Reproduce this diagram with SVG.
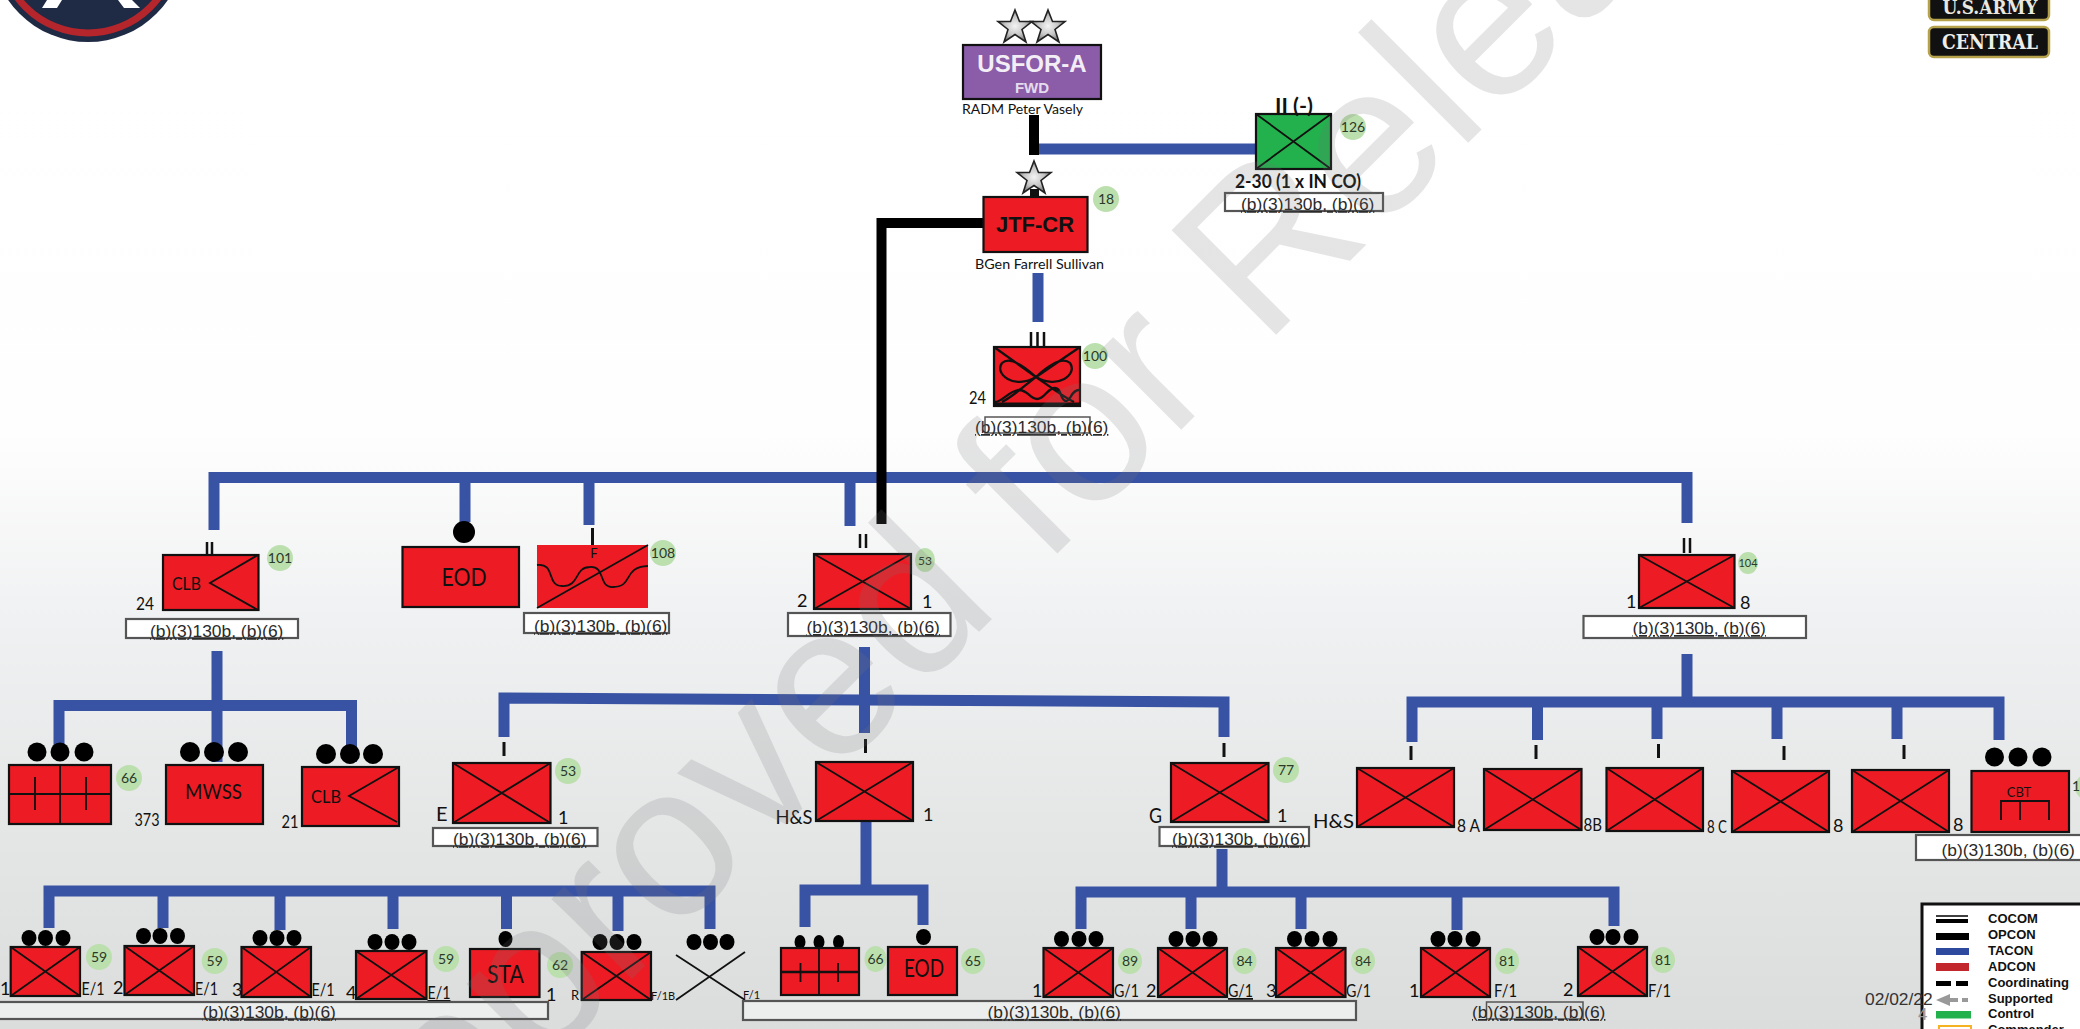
<svg xmlns="http://www.w3.org/2000/svg" width="2080" height="1029" viewBox="0 0 2080 1029">
<style>
.n{fill:#ed1c24;stroke:#111;stroke-width:2.2}
.nf{fill:#ed1c24}
.s{fill:none;stroke:#111;stroke-width:1.8}
.d{fill:#000}
.g{fill:#bcdfae}
.gt{font-family:Lato,"Liberation Sans",sans-serif;font-size:14px;fill:#2a3a2a;text-anchor:middle}
.t{font-family:Lato,"Liberation Sans",sans-serif;font-size:18px;fill:#111}
.m{text-anchor:middle}
.sm{font-size:13px}
.big{font-size:25px}
.r{fill:#fff;stroke:#555;stroke-width:2.2}
.rl{fill:#eceded;stroke:#555;stroke-width:2.2}
.rt{font-family:"Liberation Sans",Arial,sans-serif;font-size:17.4px;fill:#2a2a2a;text-decoration:underline}
.bl{stroke:#3953a4;fill:none;stroke-width:11}
.bk{stroke:#000;fill:none;stroke-width:10}
.lg{font-family:"Liberation Sans",Arial,sans-serif;font-size:13px;font-weight:bold;fill:#111}
.wm{font-family:"Liberation Sans",Arial,sans-serif;font-size:215px;fill:#737477;opacity:.18}
</style>
<defs>
<linearGradient id="bg" x1="0" y1="0" x2="0" y2="1">
<stop offset="0" stop-color="#fff"/><stop offset=".42" stop-color="#fefefe"/><stop offset=".6" stop-color="#f0f1f2"/><stop offset=".8" stop-color="#e5e6e6"/><stop offset="1" stop-color="#dbdcdc"/>
</linearGradient>
<radialGradient id="sg"><stop offset="0" stop-color="#f4f4f4"/><stop offset=".6" stop-color="#c4c4c4"/><stop offset="1" stop-color="#777"/></radialGradient>
<polygon id="star" points="0,-17 4.5,-5.500 17,-5.500 7,2.500 11,15 0,7.500 -11,15 -7,2.500 -17,-5.500 -4.500,-5.500" fill="url(#sg)" stroke="#222" stroke-width="1.600"/>
</defs>
<rect id="background" width="2080" height="1029" fill="url(#bg)"/>

<g id="logo-left">
<circle cx="88" cy="-55" r="97" fill="#1f2a44"/>
<circle cx="88" cy="-55" r="88" fill="none" stroke="#b5262c" stroke-width="7"/>
<polygon points="47,0 62,0 57,8 42,8" fill="#fff"/>
<polygon points="118,0 132,0 140,8 124,8" fill="#fff"/>
</g>
<g id="logo-right">
<rect x="1929" y="-12" width="120" height="32" rx="5" fill="#111" stroke="#b5a24a" stroke-width="2.500"/>
<text x="1990" y="14" text-anchor="middle" textLength="95" lengthAdjust="spacingAndGlyphs" font-family="'DejaVu Serif',serif" font-weight="bold" font-size="18" fill="#e8e8e0">U.S.ARMY</text>
<rect x="1929" y="27" width="120" height="30" rx="5" fill="#111" stroke="#b5a24a" stroke-width="2.500"/>
<text x="1990" y="49" text-anchor="middle" textLength="96" lengthAdjust="spacingAndGlyphs" font-family="'DejaVu Serif',serif" font-weight="bold" font-size="21" fill="#eeeeea">CENTRAL</text>
</g>

<g id="connectors">
<path class="bl" d="M1036 149H1256"/>
<path class="bl" d="M1038 273V322"/>
<path class="bl" d="M214 530V477.500H1687V523"/>
<path class="bl" d="M465 482V522"/>
<path class="bl" d="M589 482V525"/>
<path class="bl" d="M850 482V526"/>
<path class="bl" d="M217 651V762"/>
<path class="bl" d="M59 745V705.500H351.500V762"/>
<path class="bl" d="M504 737V698L1224 702V737"/>
<path class="bl" d="M864.500 647V733"/>
<path class="bl" d="M866 821V890"/>
<path class="bl" d="M805 927V890H923V925"/>
<path class="bl" d="M1222 849V892"/>
<path class="bl" d="M1081 929V892H1614V926"/>
<path class="bl" d="M1191 892V929M1301 892V929M1457 892V930"/>
<path class="bl" d="M1687 654V702"/>
<path class="bl" d="M1412 742V702H1999V740"/>
<path class="bl" d="M1537.500 702V740M1657 702V739M1777 702V739M1897 702V739"/>
<path class="bl" d="M49 928V891H710V929"/>
<path class="bl" d="M163 891V928M280 891V930M393 891V929M506.500 891V929M618 891V931"/>
<path class="bk" d="M1034 115V155"/>
<path class="bk" d="M983 223H881.500V524"/>
</g>

<g id="usfor-a">
<use href="#star" x="1015" y="27"/><use href="#star" x="1048" y="27"/>
<rect x="963" y="45" width="138" height="54" fill="#8b5ca8" stroke="#111" stroke-width="2.200"/>
<text x="1032" y="72" text-anchor="middle" font-family="'Liberation Sans',Arial,sans-serif" font-weight="bold" font-size="24" fill="#f3eef6">USFOR-A</text>
<text x="1032" y="93" text-anchor="middle" font-family="'Liberation Sans',Arial,sans-serif" font-weight="bold" font-size="15" fill="#e4dcec">FWD</text>
<text class="t sm" x="962" y="114" textLength="121" lengthAdjust="spacingAndGlyphs">RADM Peter Vasely</text>
</g>
<g id="inf-2-30">
<rect x="1256" y="114" width="75" height="55" fill="#22b14c" stroke="#111" stroke-width="2.200"/>
<path class="s" d="M1256 114L1331 169M1331 114L1256 169"/>
<text x="1275" y="113" textLength="38" lengthAdjust="spacingAndGlyphs" font-family="Lato,sans-serif" font-weight="bold" font-size="20" fill="#111">II (-)</text>
<circle class="g" cx="1353" cy="127" r="13"/><text class="gt" x="1353" y="132">126</text>
<text x="1235" y="188" textLength="126" lengthAdjust="spacingAndGlyphs" font-family="Lato,sans-serif" font-weight="bold" font-size="18" fill="#111">2-30 (1 x IN CO)</text>
<rect class="r" x="1225" y="193" width="158" height="18"/><text class="rt" x="1241" y="210">(b)(3)130b, (b)(6)</text>
</g>
<g id="jtf-cr">
<use href="#star" x="1034" y="178"/>
<rect x="1030" y="189" width="9" height="8" fill="#111"/>
<rect class="n" x="983.500" y="197" width="104" height="55"/>
<text x="1035" y="232" text-anchor="middle" font-family="'Liberation Sans',Arial,sans-serif" font-weight="bold" font-size="22" fill="#111">JTF-CR</text>
<circle class="g" cx="1106" cy="199" r="13"/><text class="gt" x="1106" y="204">18</text>
<text class="t sm" x="975" y="269" textLength="129" lengthAdjust="spacingAndGlyphs">BGen Farrell Sullivan</text>
</g>
<g id="mef-24">
<path d="M1031 332V346M1037.500 332V346M1044 332V346" stroke="#111" stroke-width="2.500"/>
<rect class="n" x="994" y="347" width="86" height="59"/>
<path class="s" style="stroke-width:2.300" d="M994 347L1036 377L1080 347M1036 377C1024 366 1010 356 1002 363C994 374 1014 390 1036 377M1036 377C1048 366 1062 356 1070 363C1078 374 1058 390 1036 377M1036 377C1025 385 1015 395 1002 402M1036 377C1048 385 1060 395 1074 402M995 402C1002 402 1010 390 1019 390C1028 390 1030 399 1037 399C1045 399 1047 388 1055 388C1062 388 1060 401 1066 401C1071 401 1071 390 1079 390"/>
<path d="M994 404H1080" stroke="#111" stroke-width="3"/>
<circle class="g" cx="1095" cy="356" r="13"/><text class="gt" x="1095" y="361">100</text>
<text class="t" x="969" y="404" textLength="17" lengthAdjust="spacingAndGlyphs">24</text>
<rect x="985" y="417" width="105" height="16" fill="none" stroke="#555" stroke-width="1.500"/>
<text class="rt" x="975" y="433">(b)(3)130b, (b)(6)</text>
</g>
<g id="clb-24">
<path d="M207 542V555M212 542V555" stroke="#111" stroke-width="2.500"/>
<rect class="n" x="163" y="555" width="95.500" height="55"/>
<path class="s" d="M258 555L210 583L258 610"/>
<text class="t" x="172" y="590" textLength="29" lengthAdjust="spacingAndGlyphs">CLB</text>
<text class="t" x="136" y="610" textLength="18" lengthAdjust="spacingAndGlyphs">24</text>
<circle class="g" cx="280" cy="558" r="13"/><text class="gt" x="280" y="563">101</text>
<rect class="r" x="126" y="619" width="172" height="19"/><text class="rt" x="150" y="637">(b)(3)130b, (b)(6)</text>
</g>
<g id="eod-top">
<circle class="d" cx="464" cy="532" r="11"/>
<rect class="n" x="402.500" y="547" width="116.500" height="60"/>
<text class="t big" x="441.500" y="586" textLength="45" lengthAdjust="spacingAndGlyphs">EOD</text>
</g>
<g id="bridge-108">
<path d="M592.500 528V545" stroke="#111" stroke-width="3"/>
<rect class="nf" x="537" y="545" width="111" height="63"/>
<path class="s" d="M537 608L648 545M537 565C556 563 546 586 562 586C580 587 574 567 590 567C606 566 598 588 613 587C634 587 622 567 648 566"/>
<text class="t sm m" x="594" y="558">F</text>
<circle class="g" cx="663" cy="553" r="13"/><text class="gt" x="663" y="558">108</text>
<rect class="r" x="524" y="613" width="145" height="20"/><text class="rt" x="534" y="632">(b)(3)130b, (b)(6)</text>
</g>
<g id="bn-2-1">
<path d="M860 534V548M866 534V548" stroke="#111" stroke-width="2.500"/>
<rect class="n" x="814" y="554" width="97" height="55"/>
<path class="s" d="M814 554L911 609M911 554L814 609"/>
<text class="t" x="797" y="607">2</text><text class="t" x="922" y="608">1</text>
<ellipse class="g" cx="925" cy="560" rx="10" ry="12"/><text class="gt" x="925" y="565" style="font-size:12px">53</text>
<rect class="r" x="788" y="613" width="162.500" height="23"/><text class="rt" x="806.500" y="633">(b)(3)130b, (b)(6)</text>
</g>
<g id="bn-1-8">
<path d="M1684 538V553M1690 538V553" stroke="#111" stroke-width="2.500"/>
<rect class="n" x="1639" y="555" width="95.500" height="53"/>
<path class="s" d="M1639 555L1734.500 608M1734.500 555L1639 608"/>
<text class="t" x="1626" y="608">1</text><text class="t" x="1740" y="609">8</text>
<ellipse class="g" cx="1748" cy="563" rx="10" ry="11"/><text class="gt" x="1748" y="567" style="font-size:11px">104</text>
<rect class="r" x="1583.500" y="616" width="222.500" height="22"/><text class="rt" x="1632.500" y="634">(b)(3)130b, (b)(6)</text>
</g>
<g id="fse-66-a">
<circle class="d" cx="37" cy="752" r="9.500"/><circle class="d" cx="60" cy="752" r="9.500"/><circle class="d" cx="84" cy="752" r="9.500"/>
<rect class="n" x="9" y="765" width="102" height="59"/>
<path class="s" d="M9 794H111M60 765V824M35 777V810M86 777V810"/>
<circle class="g" cx="129" cy="778" r="13"/><text class="gt" x="129" y="783">66</text>
</g>
<g id="mwss-373">
<circle class="d" cx="190" cy="752" r="10"/><circle class="d" cx="214" cy="752" r="10"/><circle class="d" cx="238" cy="752" r="10"/>
<rect class="n" x="166" y="765" width="97" height="59"/>
<text class="t" x="185" y="799" style="font-size:22px" textLength="57" lengthAdjust="spacingAndGlyphs">MWSS</text>
<text class="t" x="134.500" y="826" textLength="25" lengthAdjust="spacingAndGlyphs">373</text>
</g>
<g id="clb-21">
<circle class="d" cx="326" cy="754" r="10"/><circle class="d" cx="350" cy="754" r="10"/><circle class="d" cx="373" cy="754" r="10"/>
<rect class="n" x="302" y="767" width="97" height="59"/>
<path class="s" d="M399 767L349 796L397 822"/>
<text class="t" x="311" y="803" textLength="30" lengthAdjust="spacingAndGlyphs">CLB</text>
<text class="t" x="281.500" y="828" textLength="17" lengthAdjust="spacingAndGlyphs">21</text>
</g>
<g id="co-e">
<path d="M504 742V756" stroke="#111" stroke-width="3"/>
<rect class="n" x="453" y="763" width="97.500" height="60"/>
<path class="s" d="M453 763L550.500 823M550.500 763L453 823"/>
<text class="t" x="436" y="821" style="font-size:20px">E</text><text class="t" x="558" y="824">1</text>
<circle class="g" cx="568" cy="771" r="13"/><text class="gt" x="568" y="776">53</text>
<rect class="r" x="433" y="828" width="164.500" height="18"/><text class="rt" x="453" y="845">(b)(3)130b, (b)(6)</text>
</g>
<g id="co-hs">
<path d="M865.500 739V753" stroke="#111" stroke-width="3"/>
<rect class="n" x="816" y="762" width="97" height="59"/>
<path class="s" d="M816 762L913 821M913 762L816 821"/>
<text class="t" x="775.500" y="824" style="font-size:20px" textLength="37" lengthAdjust="spacingAndGlyphs">H&amp;S</text><text class="t" x="923" y="821">1</text>
</g>
<g id="co-g">
<path d="M1224 743V757" stroke="#111" stroke-width="3"/>
<rect class="n" x="1171" y="763" width="97.500" height="59"/>
<path class="s" d="M1171 763L1268.500 822M1268.500 763L1171 822"/>
<text class="t" x="1149" y="823" style="font-size:21px" textLength="13" lengthAdjust="spacingAndGlyphs">G</text><text class="t" x="1277" y="822">1</text>
<circle class="g" cx="1286" cy="770" r="13"/><text class="gt" x="1286" y="775">77</text>
<rect class="r" x="1159.500" y="827" width="149.500" height="19"/><text class="rt" x="1172" y="845">(b)(3)130b, (b)(6)</text>
</g>
<g id="co-hs-8">
<path d="M1411 746V760" stroke="#111" stroke-width="3"/>
<rect class="n" x="1357" y="768" width="97" height="59"/><path class="s" d="M1357 768L1454 827M1454 768L1357 827"/>
<text class="t" x="1313" y="828" style="font-size:20px" textLength="41" lengthAdjust="spacingAndGlyphs">H&amp;S</text><text class="t" x="1457" y="832" textLength="23" lengthAdjust="spacingAndGlyphs">8 A</text>
</g>
<g id="co-b-8">
<path d="M1536 745V759" stroke="#111" stroke-width="3"/>
<rect class="n" x="1484" y="769" width="97.500" height="61"/><path class="s" d="M1484 769L1581.500 830M1581.500 769L1484 830"/>
<text class="t" x="1583.500" y="831" textLength="18.500" lengthAdjust="spacingAndGlyphs">8B</text>
</g>
<g id="co-c-8">
<path d="M1658.500 744V758" stroke="#111" stroke-width="3"/>
<rect class="n" x="1606.500" y="768" width="96.500" height="63"/><path class="s" d="M1606.500 768L1703 831M1703 768L1606.500 831"/>
<text class="t" x="1707" y="833" textLength="20" lengthAdjust="spacingAndGlyphs">8 C</text>
</g>
<g id="co-4-8">
<path d="M1784 746V760" stroke="#111" stroke-width="3"/>
<rect class="n" x="1732" y="771" width="97" height="61"/><path class="s" d="M1732 771L1829 832M1829 771L1732 832"/>
<text class="t" x="1833" y="832">8</text>
</g>
<g id="co-5-8">
<path d="M1904 745V759" stroke="#111" stroke-width="3"/>
<rect class="n" x="1852" y="770" width="97" height="62"/><path class="s" d="M1852 770L1949 832M1949 770L1852 832"/>
<text class="t" x="1953" y="831">8</text>
</g>
<g id="cbt">
<circle class="d" cx="1994.500" cy="757" r="9.500"/><circle class="d" cx="2018" cy="757" r="9.500"/><circle class="d" cx="2042" cy="757" r="9.500"/>
<rect class="n" x="1971.500" y="771" width="97.500" height="61"/>
<path class="s" d="M2001 820V801H2049V820M2020 801V820"/>
<text class="t sm m" x="2019" y="797">CBT</text>
<circle class="g" cx="2088" cy="787" r="13"/><text class="gt" x="2076" y="791">1</text>
<rect class="r" x="1916" y="835" width="170" height="25"/><text class="rt" x="1941.500" y="856" style="text-decoration:none">(b)(3)130b, (b)(6)</text>
</g>

<g id="plt-1-e">
<ellipse class="d" cx="29" cy="938" rx="7.500" ry="8"/><ellipse class="d" cx="45.500" cy="938" rx="7.500" ry="8"/><ellipse class="d" cx="63" cy="938" rx="7.500" ry="8"/>
<rect class="n" x="10.700" y="947" width="69.300" height="49"/><path class="s" d="M10.700 947L80 996M80 947L10.700 996"/>
<text class="t" x="0" y="995">1</text><text class="t" x="81.500" y="995" textLength="23" lengthAdjust="spacingAndGlyphs">E/1</text>
<circle class="g" cx="99" cy="957" r="13"/><text class="gt" x="99" y="962">59</text>
</g>
<g id="plt-2-e">
<ellipse class="d" cx="143.500" cy="936" rx="7.500" ry="8"/><ellipse class="d" cx="160" cy="936" rx="7.500" ry="8"/><ellipse class="d" cx="177.500" cy="936" rx="7.500" ry="8"/>
<rect class="n" x="124.500" y="946" width="69.500" height="49"/><path class="s" d="M124.500 946L194 995M194 946L124.500 995"/>
<text class="t" x="113" y="994">2</text><text class="t" x="195" y="995" textLength="23" lengthAdjust="spacingAndGlyphs">E/1</text>
<circle class="g" cx="214.700" cy="961" r="13"/><text class="gt" x="214.700" y="966">59</text>
</g>
<g id="plt-3-e">
<ellipse class="d" cx="260" cy="938" rx="7.500" ry="8"/><ellipse class="d" cx="277" cy="938" rx="7.500" ry="8"/><ellipse class="d" cx="294" cy="938" rx="7.500" ry="8"/>
<rect class="n" x="241.500" y="947" width="69.500" height="50"/><path class="s" d="M241.500 947L311 997M311 947L241.500 997"/>
<text class="t" x="232" y="996">3</text><text class="t" x="311.500" y="996" textLength="23" lengthAdjust="spacingAndGlyphs">E/1</text>
</g>
<g id="plt-4-e">
<ellipse class="d" cx="375" cy="942" rx="7.500" ry="8"/><ellipse class="d" cx="392" cy="942" rx="7.500" ry="8"/><ellipse class="d" cx="409" cy="942" rx="7.500" ry="8"/>
<rect class="n" x="356" y="951" width="70.500" height="48"/><path class="s" d="M356 951L426.500 999M426.500 951L356 999"/>
<text class="t" x="346" y="999">4</text><text class="t" x="427.500" y="999" text-decoration="underline" textLength="23" lengthAdjust="spacingAndGlyphs">E/1</text>
<circle class="g" cx="446" cy="959" r="13"/><text class="gt" x="446" y="964">59</text>
</g>
<g id="sta">
<ellipse class="d" cx="505.500" cy="939" rx="7" ry="8"/>
<rect class="n" x="470" y="949" width="69.500" height="48"/>
<text class="t" x="487" y="983" style="font-size:25px" textLength="37" lengthAdjust="spacingAndGlyphs">STA</text>
<text class="t" x="546" y="1001">1</text>
<circle class="g" cx="560" cy="965" r="13"/><text class="gt" x="560" y="970">62</text>
</g>
<g id="plt-r">
<ellipse class="d" cx="600" cy="942" rx="7.500" ry="8"/><ellipse class="d" cx="617" cy="942" rx="7.500" ry="8"/><ellipse class="d" cx="634" cy="942" rx="7.500" ry="8"/>
<rect class="n" x="581.700" y="952" width="69.300" height="48"/><path class="s" d="M581.700 952L651 1000M651 952L581.700 1000"/>
<text class="t sm" x="571" y="1000">R</text><text class="t" x="651" y="1000" style="font-size:11px">F/1B</text>
</g>
<g id="plt-x">
<ellipse class="d" cx="694" cy="942" rx="7.500" ry="8"/><ellipse class="d" cx="710.500" cy="942" rx="7.500" ry="8"/><ellipse class="d" cx="727" cy="942" rx="7.500" ry="8"/>
<path class="s" d="M676 955L745 1000M745 952L676 1000"/>
<text class="t" x="743" y="999" style="font-size:11px">F/1</text>
</g>
<g id="fse-66-b">
<ellipse class="d" cx="800" cy="942" rx="5.500" ry="7"/><ellipse class="d" cx="819" cy="942" rx="5.500" ry="7"/><ellipse class="d" cx="838.500" cy="942" rx="5.500" ry="7"/>
<rect class="n" x="781" y="948" width="78" height="47"/>
<path class="s" d="M819 948V995M800.500 963V982M838 963V982"/><path d="M781 972H859" stroke="#111" stroke-width="2.500"/>
<ellipse class="g" cx="875.500" cy="959" rx="11" ry="13"/><text class="gt" x="875.500" y="964">66</text>
</g>
<g id="eod-65">
<ellipse class="d" cx="923.500" cy="937" rx="7.500" ry="8"/>
<rect class="n" x="888" y="947" width="69" height="48"/>
<text class="t" x="904" y="977" style="font-size:25px" textLength="40" lengthAdjust="spacingAndGlyphs">EOD</text>
<ellipse class="g" cx="973" cy="961" rx="12" ry="13"/><text class="gt" x="973" y="966">65</text>
</g>
<g id="plt-1-g">
<ellipse class="d" cx="1061.500" cy="939" rx="7.500" ry="8"/><ellipse class="d" cx="1079" cy="939" rx="7.500" ry="8"/><ellipse class="d" cx="1096" cy="939" rx="7.500" ry="8"/>
<rect class="n" x="1043.500" y="948" width="69.500" height="49"/><path class="s" d="M1043.500 948L1113 997M1113 948L1043.500 997"/>
<text class="t" x="1032" y="997">1</text><text class="t" x="1114" y="997" textLength="25" lengthAdjust="spacingAndGlyphs">G/1</text>
<ellipse class="g" cx="1130" cy="961" rx="12" ry="13"/><text class="gt" x="1130" y="966">89</text>
</g>
<g id="plt-2-g">
<ellipse class="d" cx="1176" cy="939" rx="7.500" ry="8"/><ellipse class="d" cx="1193" cy="939" rx="7.500" ry="8"/><ellipse class="d" cx="1210" cy="939" rx="7.500" ry="8"/>
<rect class="n" x="1158" y="948" width="69" height="49"/><path class="s" d="M1158 948L1227 997M1227 948L1158 997"/>
<text class="t" x="1146" y="997">2</text><text class="t" x="1228" y="997" text-decoration="underline" textLength="25" lengthAdjust="spacingAndGlyphs">G/1</text>
<ellipse class="g" cx="1244.500" cy="961" rx="12" ry="13"/><text class="gt" x="1244.500" y="966">84</text>
</g>
<g id="plt-3-g">
<ellipse class="d" cx="1294.500" cy="939" rx="7.500" ry="8"/><ellipse class="d" cx="1312" cy="939" rx="7.500" ry="8"/><ellipse class="d" cx="1330" cy="939" rx="7.500" ry="8"/>
<rect class="n" x="1276" y="948" width="69.500" height="49"/><path class="s" d="M1276 948L1345.500 997M1345.500 948L1276 997"/>
<text class="t" x="1266" y="997">3</text><text class="t" x="1346" y="997" textLength="25" lengthAdjust="spacingAndGlyphs">G/1</text>
<ellipse class="g" cx="1363" cy="961" rx="12" ry="13"/><text class="gt" x="1363" y="966">84</text>
</g>
<g id="plt-1-f">
<ellipse class="d" cx="1438" cy="939" rx="7.500" ry="8"/><ellipse class="d" cx="1455" cy="939" rx="7.500" ry="8"/><ellipse class="d" cx="1473" cy="939" rx="7.500" ry="8"/>
<rect class="n" x="1421" y="948" width="69" height="49"/><path class="s" d="M1421 948L1490 997M1490 948L1421 997"/>
<text class="t" x="1409" y="997">1</text><text class="t" x="1494" y="997" textLength="23" lengthAdjust="spacingAndGlyphs">F/1</text>
<ellipse class="g" cx="1507" cy="961" rx="12" ry="13"/><text class="gt" x="1507" y="966">81</text>
</g>
<g id="plt-2-f">
<ellipse class="d" cx="1597" cy="937" rx="7.500" ry="8"/><ellipse class="d" cx="1613" cy="937" rx="7.500" ry="8"/><ellipse class="d" cx="1631" cy="937" rx="7.500" ry="8"/>
<rect class="n" x="1578" y="947" width="69" height="49"/><path class="s" d="M1578 947L1647 996M1647 947L1578 996"/>
<text class="t" x="1563" y="996">2</text><text class="t" x="1648" y="997" textLength="23" lengthAdjust="spacingAndGlyphs">F/1</text>
<ellipse class="g" cx="1663" cy="960" rx="12" ry="13"/><text class="gt" x="1663" y="965">81</text>
</g>
<g id="redaction-bars">
<rect class="rl" x="-4" y="1002" width="552" height="17"/><text class="rt" x="202.500" y="1018">(b)(3)130b, (b)(6)</text>
<rect class="rl" x="743" y="1001" width="613" height="19"/><text class="rt" x="987.500" y="1018">(b)(3)130b, (b)(6)</text>
<rect x="1486.500" y="1002" width="96.500" height="17" fill="none" stroke="#555" stroke-width="1.500"/><text class="rt" x="1472" y="1018">(b)(3)130b, (b)(6)</text>
</g>
<g id="legend">
<rect x="1922" y="904" width="170" height="135" fill="#fff" stroke="#111" stroke-width="3"/>
<path d="M1936 916H1968" stroke="#000" stroke-width="1.500"/><path d="M1936 921H1968" stroke="#000" stroke-width="4"/>
<rect x="1936" y="933" width="33" height="7" fill="#000"/>
<rect x="1936" y="948" width="33" height="7" fill="#2e4a9e"/>
<rect x="1936" y="963" width="33" height="8" fill="#c1272d"/>
<path d="M1936 983.500H1951M1956 983.500H1968" stroke="#000" stroke-width="5"/>
<path d="M1948 1000H1958M1962 1000H1968" stroke="#999" stroke-width="4"/><polygon points="1936,1000 1950,994 1950,1006" fill="#999"/>
<rect x="1936" y="1011" width="35" height="7.500" fill="#22b14c"/>
<rect x="1939" y="1026" width="32" height="10" fill="none" stroke="#f5b324" stroke-width="2"/>
<text class="lg" x="1988" y="923">COCOM</text><text class="lg" x="1988" y="939">OPCON</text><text class="lg" x="1988" y="955">TACON</text><text class="lg" x="1988" y="971">ADCON</text><text class="lg" x="1988" y="987">Coordinating</text><text class="lg" x="1988" y="1003">Supported</text><text class="lg" x="1988" y="1018">Control</text><text class="lg" x="1988" y="1034">Commander</text>
</g>
<g id="date">
<text x="1865" y="1005" font-family="'Liberation Sans',Arial,sans-serif" font-size="17.400" fill="#333">02/02/22</text>
<text x="1918" y="1020" font-family="'Liberation Sans',Arial,sans-serif" font-size="17" fill="#999">4</text>
</g>
<text class="wm" x="351" y="1260" transform="rotate(-45 351 1260)">Approved for Release</text>
</svg>
